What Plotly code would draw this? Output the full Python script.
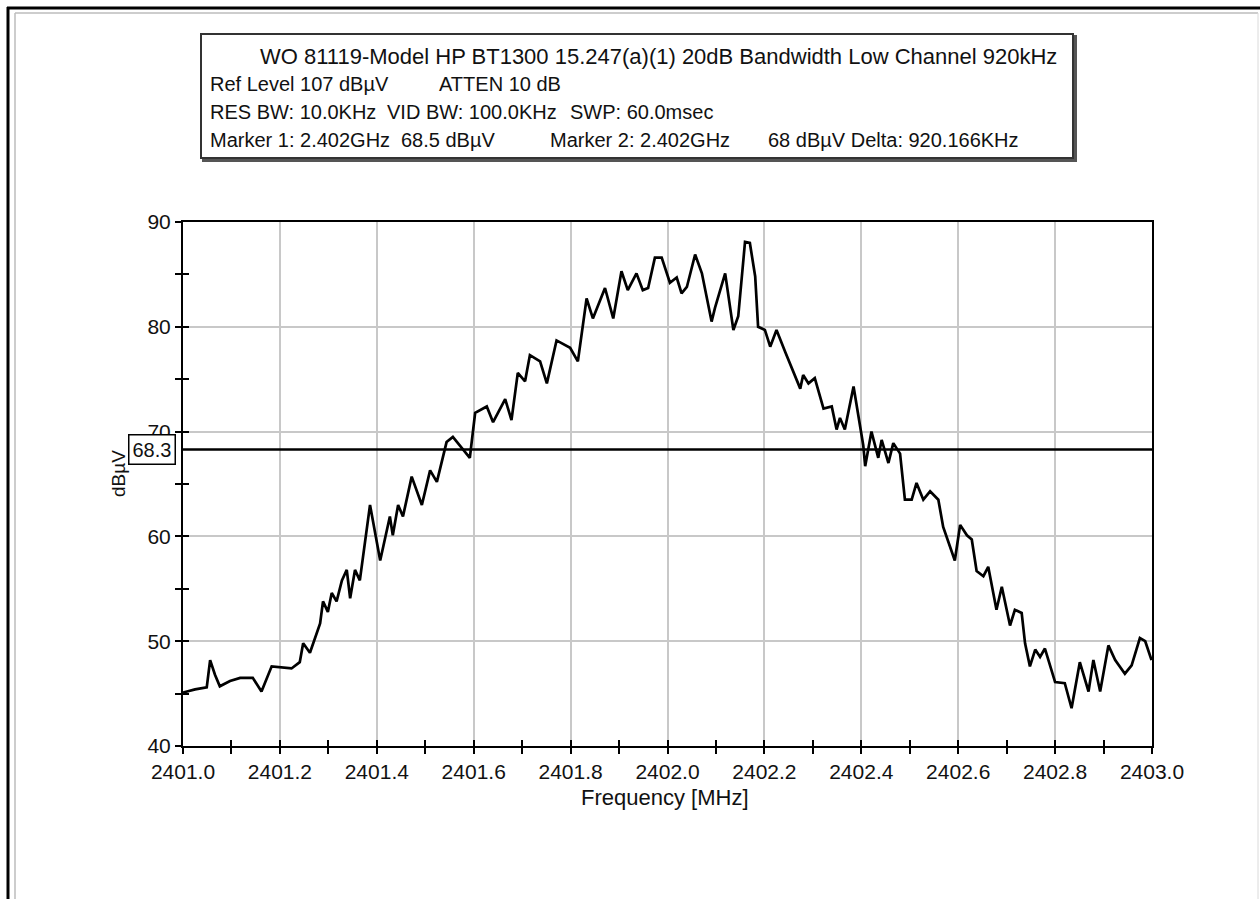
import plotly.graph_objects as go

# ---------------- data ----------------
freq_mhz = [
    2401.000, 2401.025, 2401.049, 2401.056, 2401.066, 2401.076, 2401.097, 2401.118, 2401.144, 2401.162,
    2401.183, 2401.224, 2401.241, 2401.248, 2401.262, 2401.272, 2401.283, 2401.289, 2401.299, 2401.307,
    2401.317, 2401.328, 2401.338, 2401.345, 2401.355, 2401.365, 2401.386, 2401.407, 2401.427, 2401.433,
    2401.444, 2401.454, 2401.472, 2401.493, 2401.510, 2401.524, 2401.544, 2401.557, 2401.572, 2401.592,
    2401.603, 2401.627, 2401.640, 2401.665, 2401.678, 2401.691, 2401.706, 2401.716, 2401.737, 2401.751,
    2401.771, 2401.799, 2401.815, 2401.833, 2401.846, 2401.871, 2401.888, 2401.905, 2401.918, 2401.936,
    2401.949, 2401.960, 2401.974, 2401.988, 2402.005, 2402.019, 2402.029, 2402.040, 2402.057, 2402.071,
    2402.091, 2402.098, 2402.119, 2402.136, 2402.146, 2402.160, 2402.170, 2402.181, 2402.187, 2402.201,
    2402.212, 2402.225, 2402.243, 2402.260, 2402.274, 2402.280, 2402.291, 2402.304, 2402.322, 2402.339,
    2402.349, 2402.356, 2402.366, 2402.384, 2402.394, 2402.404, 2402.408, 2402.421, 2402.435, 2402.442,
    2402.456, 2402.466, 2402.480, 2402.490, 2402.504, 2402.514, 2402.528, 2402.542, 2402.559, 2402.569,
    2402.593, 2402.604, 2402.618, 2402.628, 2402.638, 2402.652, 2402.662, 2402.679, 2402.690, 2402.707,
    2402.717, 2402.731, 2402.738, 2402.748, 2402.759, 2402.769, 2402.779, 2402.800, 2402.820, 2402.834,
    2402.851, 2402.869, 2402.879, 2402.893, 2402.910, 2402.924, 2402.944, 2402.958, 2402.975, 2402.986,
    2402.999,
]
level_dbuv = [
    45.1, 45.4, 45.6, 48.2, 46.8, 45.7, 46.2, 46.5, 46.5, 45.2,
    47.6, 47.4, 48.0, 49.8, 48.9, 50.3, 51.7, 53.8, 52.8, 54.6,
    53.8, 55.8, 56.8, 54.1, 56.8, 55.8, 63.0, 57.7, 61.9, 60.1,
    63.0, 61.9, 65.7, 63.0, 66.3, 65.2, 69.0, 69.5, 68.6, 67.5,
    71.8, 72.4, 70.9, 73.1, 71.1, 75.6, 74.8, 77.3, 76.7, 74.6,
    78.7, 78.0, 76.7, 82.7, 80.8, 83.7, 80.8, 85.3, 83.5, 85.1,
    83.5, 83.7, 86.6, 86.6, 84.2, 84.7, 83.2, 83.8, 86.9, 85.1,
    80.5, 81.8, 85.1, 79.7, 81.0, 88.1, 88.0, 84.8, 80.0, 79.7,
    78.1, 79.7, 77.6, 75.6, 74.1, 75.4, 74.6, 75.1, 72.2, 72.4,
    70.2, 71.3, 70.2, 74.3, 71.7, 68.7, 66.7, 70.0, 67.5, 69.2,
    67.0, 68.9, 67.9, 63.5, 63.5, 65.1, 63.5, 64.3, 63.5, 60.9,
    57.7, 61.1, 60.1, 59.7, 56.7, 56.2, 57.1, 53.0, 55.2, 51.5,
    53.0, 52.7, 49.8, 47.6, 49.2, 48.5, 49.3, 46.1, 46.0, 43.6,
    48.0, 45.2, 48.2, 45.2, 49.6, 48.2, 46.9, 47.7, 50.3, 50.0,
    48.2,
]
marker_line_level = 68.3
x_range = [2401.0, 2403.0]
y_range = [40, 90]

header_lines = [
    # (text, left pixel, center pixel y, font size)
    ("WO 81119-Model HP BT1300 15.247(a)(1) 20dB Bandwidth Low Channel 920kHz", 258, 57, 22),
    ("Ref Level 107 dBµV", 208, 84, 20),
    ("ATTEN 10 dB", 437, 84, 20),
    ("RES BW: 10.0KHz", 208, 112, 20),
    ("VID BW: 100.0KHz", 385, 112, 20),
    ("SWP: 60.0msec", 568, 112, 20),
    ("Marker 1: 2.402GHz", 208, 140, 20),
    ("68.5 dBµV", 399, 140, 20),
    ("Marker 2: 2.402GHz", 548, 140, 20),
    ("68 dBµV Delta: 920.166KHz", 766, 140, 20),
]
x_title = "Frequency [MHz]"
y_title = "dBµV"

# ---------------- layout geometry ----------------
W, H = 1260, 899
L, R, T, B = 183, 1152, 222, 746   # plot area in pixels


def px(xp):
    return (xp - L) / (R - L)


def py(yp):
    return (B - yp) / (B - T)


FONT = "Arial, 'Liberation Sans', sans-serif"

fig = go.Figure()
fig.add_trace(go.Scatter(x=freq_mhz, y=level_dbuv, mode="lines",
                         line=dict(color="black", width=2.7), showlegend=False,
                         hoverinfo="x+y"))
# invisible trace to carry the overlay axes (inside half of the crossing ticks)
fig.add_trace(go.Scatter(x=x_range, y=y_range, xaxis="x2", yaxis="y2", mode="lines",
                         line=dict(color="rgba(0,0,0,0)"), showlegend=False, hoverinfo="skip"))

axis_common = dict(showline=True, linecolor="black", linewidth=2, mirror=True,
                   ticks="outside", ticklen=6, tickwidth=1.5, tickcolor="black",
                   showgrid=True, gridcolor="#c8c8c8", gridwidth=1.5, zeroline=False,
                   tickfont=dict(family=FONT, size=21, color="#111"))

fig.update_layout(
    width=W, height=H,
    margin=dict(l=L, r=W - R, t=T, b=H - B, pad=0),
    paper_bgcolor="white", plot_bgcolor="white",
    font=dict(family=FONT, color="#111"),
    xaxis=dict(range=x_range, tick0=2401.0, dtick=0.2, tickformat=".1f",
               minor=dict(dtick=0.1, ticks="outside", ticklen=6, tickwidth=1.5,
                          tickcolor="black", showgrid=False),
               **axis_common),
    yaxis=dict(range=y_range, tick0=40, dtick=10,
               minor=dict(dtick=5, ticks="outside", ticklen=6, tickwidth=1.5,
                          tickcolor="black", showgrid=False),
               **axis_common),
    xaxis2=dict(overlaying="x", anchor="y2", side="bottom", range=x_range, dtick=0.1,
                ticks="inside", ticklen=6, tickwidth=1.5, tickcolor="black",
                showticklabels=False, showgrid=False, showline=False, zeroline=False),
    yaxis2=dict(overlaying="y", anchor="x2", side="left", range=y_range, dtick=5,
                ticks="inside", ticklen=6, tickwidth=1.5, tickcolor="black",
                showticklabels=False, showgrid=False, showline=False, zeroline=False),
)

shapes = []
# outer frame of the picture: black top and left edges, thin grey inner edge
shapes.append(dict(type="line", xref="paper", yref="paper",
                   x0=px(7), x1=px(1260), y0=py(8), y1=py(8),
                   line=dict(color="black", width=3), layer="above"))
shapes.append(dict(type="line", xref="paper", yref="paper",
                   x0=px(8), x1=px(8), y0=py(7), y1=py(899),
                   line=dict(color="black", width=3), layer="above"))
shapes.append(dict(type="line", xref="paper", yref="paper",
                   x0=px(15), x1=px(1258), y0=py(13), y1=py(13),
                   line=dict(color="#bdbdbd", width=1.5), layer="above"))
shapes.append(dict(type="line", xref="paper", yref="paper",
                   x0=px(15), x1=px(15), y0=py(13), y1=py(899),
                   line=dict(color="#bdbdbd", width=1.5), layer="above"))
shapes.append(dict(type="line", xref="paper", yref="paper",
                   x0=px(1258), x1=px(1258), y0=py(13), y1=py(899),
                   line=dict(color="#dadada", width=1), layer="above"))
# header box with a slight shadow
shapes.append(dict(type="rect", xref="paper", yref="paper",
                   x0=px(203), x1=px(1076), y0=py(161), y1=py(36),
                   line=dict(color="#555", width=2), fillcolor="#555", layer="above"))
shapes.append(dict(type="rect", xref="paper", yref="paper",
                   x0=px(201), x1=px(1073), y0=py(158), y1=py(34),
                   line=dict(color="#333", width=2), fillcolor="white", layer="above"))
# marker level line
shapes.append(dict(type="line", xref="x", yref="y",
                   x0=x_range[0], x1=x_range[1], y0=marker_line_level, y1=marker_line_level,
                   line=dict(color="black", width=2.5), layer="above"))
fig.update_layout(shapes=shapes)

ann = []
for text, xl, yc, fs in header_lines:
    ann.append(dict(text=text, xref="paper", yref="paper", x=px(xl), y=py(yc),
                    xanchor="left", yanchor="middle", showarrow=False,
                    font=dict(family=FONT, size=fs, color="#111")))
ann.append(dict(text=x_title, xref="paper", yref="paper", x=px(665), y=py(797),
                xanchor="center", yanchor="middle", showarrow=False,
                font=dict(family=FONT, size=22, color="#111")))
ann.append(dict(text=y_title, xref="paper", yref="paper", x=px(118), y=py(474),
                xanchor="center", yanchor="middle", showarrow=False, textangle=-90,
                font=dict(family=FONT, size=19, color="#111")))
ann.append(dict(text=f"{marker_line_level:.1f}", xref="paper", yref="y",
                x=0, y=marker_line_level, xshift=-7, xanchor="right", yanchor="middle",
                showarrow=False, bgcolor="white", bordercolor="black", borderwidth=1.5,
                borderpad=3, font=dict(family=FONT, size=20, color="#111")))
fig.update_layout(annotations=ann)

fig.write_html("out.html")
